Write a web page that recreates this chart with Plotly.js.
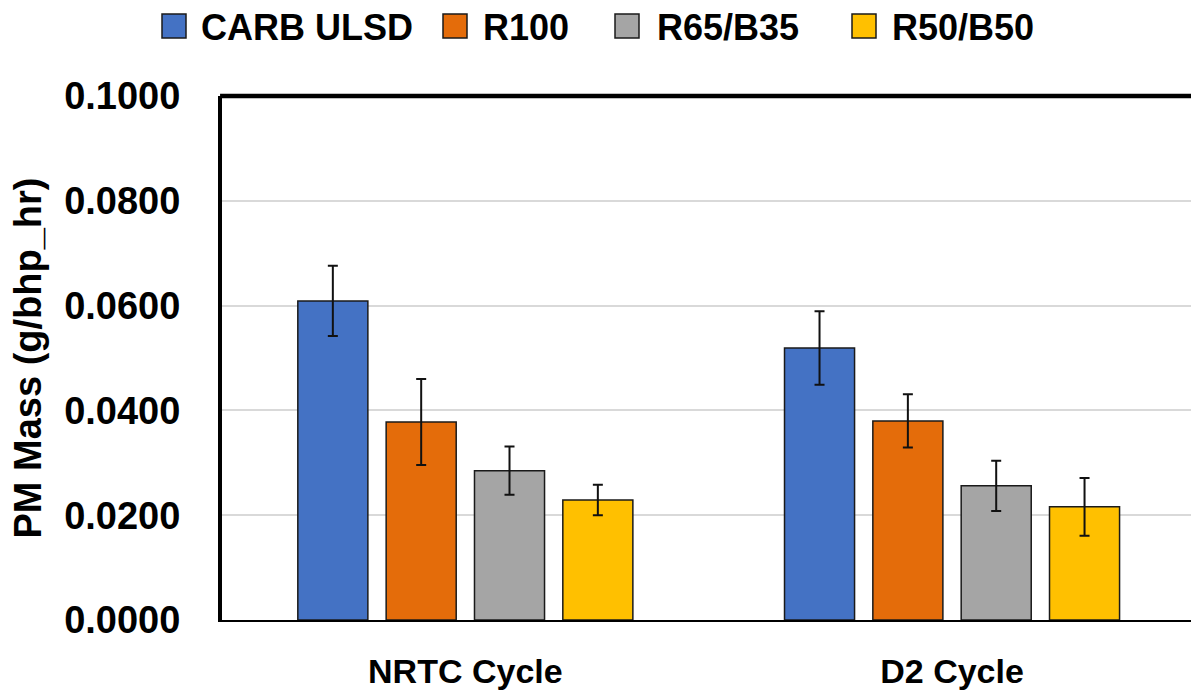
<!DOCTYPE html>
<html>
<head>
<meta charset="utf-8">
<script src="https://cdn.plot.ly/plotly-3.0.1.min.js"></script>
<style>
  html, body { margin: 0; padding: 0; background: #fff; }
  #chart { width: 1191px; height: 696px; }
</style>
</head>
<body>
<div id="chart"></div>
<script>
// ---- data ----
const categories = ["NRTC Cycle", "D2 Cycle"];
const seriesNames = ["CARB ULSD", "R100", "R65/B35", "R50/B50"];
const carbUlsd = [0.0609, 0.0519];
const carbUlsdErr = [0.0067, 0.0070];
const r100 = [0.0378, 0.0380];
const r100Err = [0.0082, 0.0051];
const r65b35 = [0.0285, 0.0256];
const r65b35Err = [0.0046, 0.0048];
const r50b50 = [0.0229, 0.0216];
const r50b50Err = [0.0029, 0.0055];
const yTicks = [0, 0.02, 0.04, 0.06, 0.08, 0.10];

// ---- styles ----
const colors = ["#4472C4", "#E46C0A", "#A5A5A5", "#FFC000"];
const values = [carbUlsd, r100, r65b35, r50b50];
const errs = [carbUlsdErr, r100Err, r65b35Err, r50b50Err];
const FONT = "'Liberation Sans', Arial, sans-serif";

const W = 1191, H = 696;
const M = { l: 222, r: 0, t: 96, b: 76 };
const plotW = W - M.l - M.r, plotH = H - M.t - M.b;
const px2x = px => (px - M.l) / plotW;
const py2y = py => (H - M.b - py) / plotH;

const traces = seriesNames.map((name, i) => ({
  type: "bar",
  name: name,
  x: categories,
  y: values[i],
  marker: { color: colors[i], line: { color: "#1a1a1a", width: 1.5 } },
  error_y: { type: "data", array: errs[i], visible: true, color: "#111", thickness: 2, width: 5 },
  hoverinfo: "x+y",
  showlegend: false
}));

// custom legend (bigger swatches than Plotly's built-in legend allows)
const legendBoxLeft = [162, 443, 615, 852];
const legendTextLeft = [199, 481, 655, 890];
const legendShapes = [], legendAnns = [];
seriesNames.forEach((name, i) => {
  legendShapes.push({
    type: "rect", xref: "paper", yref: "paper",
    x0: px2x(legendBoxLeft[i]), x1: px2x(legendBoxLeft[i] + 24),
    y0: py2y(38), y1: py2y(14),
    fillcolor: colors[i], line: { color: "#1a1a1a", width: 1.5 }
  });
  legendAnns.push({
    xref: "paper", yref: "paper",
    x: px2x(legendTextLeft[i]), y: py2y(27),
    xanchor: "left", yanchor: "middle", showarrow: false,
    text: name,
    font: { family: FONT, size: 36, color: "#000", weight: 700 }
  });
});

const layout = {
  width: W,
  height: H,
  margin: { l: M.l, r: M.r, t: M.t, b: M.b, pad: 0 },
  paper_bgcolor: "#fff",
  plot_bgcolor: "#fff",
  barmode: "group",
  bargap: 0.274,
  bargroupgap: 0.207,
  font: { family: FONT, color: "#000", size: 34, weight: 700 },
  showlegend: false,
  xaxis: {
    type: "category",
    range: [-0.5, 1.491],
    showline: true, linecolor: "#000", linewidth: 2,
    showgrid: false, zeroline: false,
    ticks: "outside", ticklen: 20, tickcolor: "rgba(0,0,0,0)",
    tickfont: { family: FONT, size: 34, color: "#000", weight: 700 },
    fixedrange: true
  },
  yaxis: {
    range: [0, 0.1],
    tickvals: yTicks,
    tickformat: ".4f",
    showline: true, linecolor: "#000", linewidth: 4,
    showgrid: true, gridcolor: "#d9d9d9", gridwidth: 2,
    zeroline: false,
    ticks: "outside", ticklen: 30, tickcolor: "rgba(0,0,0,0)",
    tickfont: { family: FONT, size: 38, color: "#000", weight: 700 },
    title: { text: "PM Mass (g/bhp_hr)", font: { family: FONT, size: 38, color: "#000", weight: 700 }, standoff: 12 },
    fixedrange: true
  },
  shapes: [
    { type: "line", xref: "paper", yref: "paper", x0: -0.002, x1: 1.01, y0: 1, y1: 1,
      line: { color: "#000", width: 4.5 } }
  ].concat(legendShapes),
  annotations: legendAnns
};

Plotly.newPlot("chart", traces, layout, { displayModeBar: false, staticPlot: true });
</script>
</body>
</html>
